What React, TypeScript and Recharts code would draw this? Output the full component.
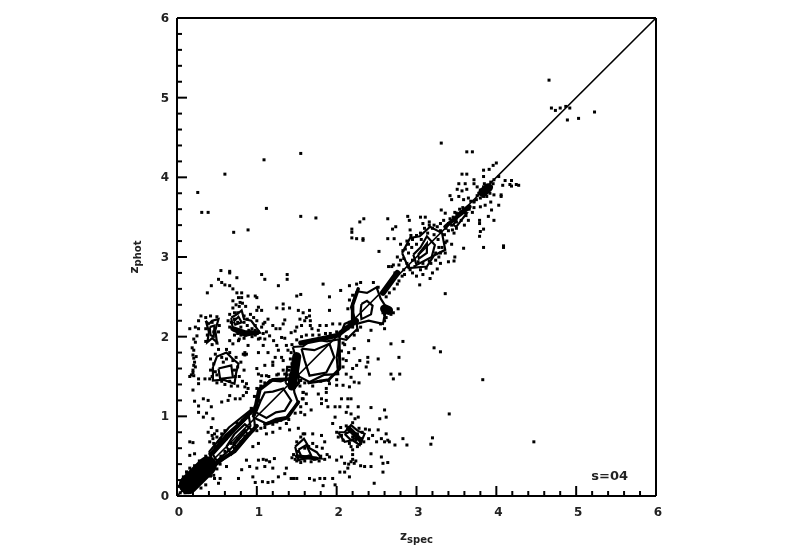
import { ScatterChart, Scatter, XAxis, YAxis, ReferenceLine, ReferenceDot, Label } from "recharts";

type Pt = [number, number];

const majorTicks = [0, 1, 2, 3, 4, 5, 6];
const allTicks = [0, 0.2, 0.4, 0.6, 0.8, 1, 1.2, 1.4, 1.6, 1.8, 2, 2.2, 2.4, 2.6, 2.8, 3, 3.2, 3.4, 3.6, 3.8, 4, 4.2, 4.4, 4.6, 4.8, 5, 5.2, 5.4, 5.6, 5.8, 6];

const outliers: Pt[] = [[4.66,5.22],[3.31,4.43],[1.55,4.3],[1.09,4.22],[0.6,4.04],[0.26,3.81],[0.31,3.56],[0.39,3.56],[1.12,3.61],[1.55,3.51],[1.74,3.49],[0.71,3.31],[0.89,3.34],[2.19,3.31],[2.29,3.44],[2.19,3.24],[2.33,3.21],[3.63,4.32],[3.7,4.32],[4.69,4.87],[4.74,4.84],[4.8,4.87],[4.87,4.89],[4.92,4.87],[4.89,4.72],[5.03,4.74],[5.23,4.82],[4.47,0.68],[3.83,1.46],[3.41,1.03],[3.22,1.86],[3.3,1.81],[3.2,0.73],[3.18,0.65],[4.09,3.14],[4.25,3.91],[4.17,3.91],[4.11,3.96]];

const upperBand: Pt[] = [[3.84,4.09],[3.96,4.15],[4,4.18],[3.91,4.1],[3.57,4.04],[3.63,4.04],[3.72,3.97],[3.84,4.01],[4.19,3.96],[4.19,3.89],[4.28,3.9],[4.08,3.9],[4.03,4.01],[3.97,3.97],[3.53,3.92],[3.61,3.92],[3.51,3.85],[3.63,3.85],[3.57,3.83],[3.72,3.92],[3.76,3.88],[4.06,3.78],[4.06,3.76],[3.97,3.78],[4.03,3.65],[3.93,3.69],[3.94,3.59],[3.86,3.65],[3.8,3.63],[3.97,3.46],[3.9,3.51],[3.79,3.46],[3.79,3.42],[3.84,3.35],[3.8,3.32],[3.79,3.26],[3.42,3.77],[3.44,3.72],[3.53,3.76],[3.59,3.72],[3.65,3.74],[3.72,3.69],[3.76,3.77],[3.31,3.59],[3.36,3.55],[2.89,3.51],[3.05,3.5],[3.11,3.5],[2.64,3.48],[2.34,3.48],[2.91,3.46],[2.7,3.35],[2.74,3.38],[2.19,3.35],[2.25,3.23],[2.33,3.23],[2.64,3.23],[2.72,3.23],[2.53,3.07],[3.84,3.12],[4.09,3.12],[3.59,3.11],[3.36,2.54],[3.47,2.95],[3.4,2.94],[3.48,3],[3.36,3.05],[3.3,2.92],[3.26,2.85],[3.17,2.73],[3.04,2.65],[2.65,2.88],[2.69,2.88],[2.73,2.8],[2.71,2.9],[2.92,3.34],[2.93,3.27],[2.88,3.2],[2.8,3.16],[2.83,3.08],[2.76,3.0],[2.78,2.9],[2.85,2.78],[2.95,2.8],[3,2.76],[3.08,2.78],[3.2,2.8],[3.28,3],[3.38,3.2],[3.44,3.16],[3.47,3.3],[3.5,3.36],[3.6,3.4],[3.65,3.46],[3.08,3.42],[3.16,3.44],[3.22,3.4],[3.3,3.42],[3.34,3.46],[3.42,3.48],[3.46,3.5],[3.5,3.55],[3.54,3.6],[3.6,3.58],[3.66,3.6],[3.48,3.56]];

const ringJ: Pt[] = [[2.84,2.98],[2.86,3.1],[2.9,3.16],[2.95,3.22],[3,3.27],[3.05,3.3],[3.1,3.36],[3.16,3.4],[3.2,3.36],[3.26,3.38],[3.3,3.33],[3.35,3.28],[3.4,3.33],[3.36,3.18],[3.32,3.12],[3.3,3.05],[3.24,2.96],[3.18,2.92],[3.12,2.86],[3.05,2.84],[2.98,2.88],[2.92,2.84],[2.88,2.92],[2.8,2.96],[2.9,3.05],[2.94,3.12],[3,3.16],[3.06,3.22],[3.14,3.3],[3.22,3.28],[3.27,3.22],[3.28,3.12],[3.24,3.05],[3.16,2.95],[3.08,2.92],[3.02,2.94],[2.95,2.96],[3.44,3.4],[3.4,3.42],[3.37,3.36],[3.45,3.34],[3.56,3.46],[3.5,3.44],[3.62,3.52],[3.7,3.56],[3.72,3.62],[3.68,3.7],[3.58,3.62],[3.46,3.46]];

const knot: Pt[] = [[3.78,3.8],[3.8,3.84],[3.82,3.78],[3.84,3.88],[3.86,3.82],[3.88,3.76],[3.9,3.86],[3.92,3.8],[3.84,3.76],[3.88,3.9],[3.94,3.88],[3.8,3.74],[3.75,3.72],[3.72,3.7],[3.82,3.84],[3.86,3.86],[3.9,3.82],[3.84,3.82],[3.87,3.8],[3.81,3.81],[3.96,3.92],[3.93,3.94],[3.85,3.92]];

const upperLeft: Pt[] = [[0.55,2.83],[0.66,2.82],[0.66,2.8],[0.75,2.74],[1.06,2.78],[1.1,2.72],[1.38,2.78],[1.38,2.72],[0.43,2.64],[0.38,2.55],[0.52,2.72],[0.56,2.68],[0.6,2.65],[1.27,2.64],[0.66,2.64],[0.7,2.6],[0.75,2.55],[0.81,2.55],[0.77,2.49],[0.81,2.49],[0.7,2.45],[0.79,2.43],[0.89,2.51],[0.98,2.51],[1,2.49],[1.83,2.66],[1.5,2.51],[1.55,2.53],[1.91,2.5],[2.05,2.58],[2.16,2.64],[1.33,2.41],[1.25,2.36],[1.33,2.35],[1.41,2.36],[1.02,2.37],[1,2.33],[1.06,2.33],[1.52,2.33],[1.58,2.3],[1.66,2.33],[1.91,2.33],[1.62,2.24],[1.66,2.26],[1.67,2.2],[1.67,2.14],[1.69,2.1],[1.54,2.22],[1.6,2.2],[1.35,2.21],[1.33,2.16],[1.29,2.1],[1.5,2.12],[1.56,2.14],[1.43,2.05],[1.48,2.07],[1.79,2.14],[1.77,2.08],[1.87,2.14],[1.95,2.16],[2.04,2.16],[1.14,2.22],[1.1,2.18],[1.2,2.14],[1.24,2.1],[1.08,2.16],[1.31,1.99],[1.35,1.98],[1.16,2.01],[1.1,1.97],[1.21,1.95],[1.25,1.89],[1.02,1.97],[0.66,1.95],[0.7,1.91],[0.77,1.95],[0.85,1.8],[0.85,1.77],[0.83,1.78],[0.87,1.78],[0.89,1.89],[1.08,1.89],[1.02,1.8],[1.14,1.8],[1.27,1.83],[1.31,1.74],[1.37,1.89],[1.39,1.83],[1.23,1.74],[1.2,1.68],[1.1,1.64],[1,1.6],[1.33,1.7],[1.2,1.64],[1.02,1.53],[1.06,1.51],[1.12,1.51],[1.27,1.53],[1.33,1.58]];

const featherF: Pt[] = [[0.7,2.36],[0.74,2.4],[0.78,2.38],[0.82,2.42],[0.86,2.38],[0.72,2.3],[0.66,2.28],[0.64,2.2],[0.66,2.12],[0.72,2.02],[0.78,1.97],[0.84,1.98],[0.88,2.04],[0.94,2],[0.98,2.02],[1.04,1.98],[1.08,2.04],[1.12,2.06],[1.06,2.12],[0.98,2.14],[0.92,2.28],[0.96,2.24],[1.0,2.2],[0.9,2.08],[0.8,2.12],[0.76,2.18],[0.84,2.18],[0.88,2.14],[0.74,2.08],[0.94,2.1],[0.82,2.06],[0.76,2.04],[0.86,2.02],[0.92,2.06],[0.98,2.08],[1.02,2.06],[0.72,2.22],[0.68,2.18],[0.76,2.3],[0.84,2.26],[0.88,2.22],[0.8,2.02]];

const leftColumn: Pt[] = [[0.3,2.26],[0.27,2.2],[0.16,2.1],[0.23,2.12],[0.27,2.1],[0.25,2.01],[0.21,1.97],[0.23,1.93],[0.21,1.83],[0.2,1.77],[0.21,1.73],[0.22,1.68],[0.21,1.64],[0.2,1.58],[0.21,1.51],[0.16,1.5],[0.27,1.47],[0.35,1.47],[0.41,1.47],[0.27,1.41],[0.2,1.33],[0.33,1.22],[0.39,1.2],[0.22,1.19],[0.56,1.18],[0.27,1.13],[0.43,1.12],[0.27,1.05],[0.33,0.99],[0.45,0.97],[0.37,1.04],[0.66,1.26],[0.73,1.22],[0.79,1.22],[0.64,1.2],[0.83,1.26],[0.87,1.3],[0.85,1.37],[0.89,1.35],[0.87,1.41],[0.2,1.55],[0.18,1.52],[0.24,1.75],[0.19,1.86],[0.23,1.62],[0.36,2.24],[0.42,2.26],[0.5,2.25],[0.36,2.1],[0.38,2.02],[0.36,1.94],[0.44,1.9],[0.5,1.92],[0.52,2.06],[0.53,2.14],[0.44,2.18],[0.46,2.06]];

const ringD: Pt[] = [[0.42,1.72],[0.48,1.78],[0.56,1.74],[0.52,1.84],[0.62,1.84],[0.66,1.8],[0.74,1.74],[0.8,1.68],[0.84,1.58],[0.78,1.5],[0.82,1.44],[0.76,1.38],[0.68,1.38],[0.6,1.4],[0.5,1.42],[0.44,1.5],[0.42,1.58],[0.46,1.66],[0.72,1.58],[0.76,1.62],[0.58,1.68],[0.48,1.56],[0.5,1.52],[0.62,1.72],[0.7,1.7],[0.73,1.5],[0.66,1.44],[0.56,1.44]];

const rightOfLoz: Pt[] = [[1.58,1.22],[1.62,1.16],[1.68,1.08],[1.77,1.28],[1.87,1.3],[1.81,1.22],[1.87,1.2],[1.81,1.16],[1.89,1.12],[1.98,1.12],[2.04,1.12],[2.06,1.22],[2.14,1.22],[2.18,1.22],[2.14,1.12],[2.12,1.05],[2.18,1.03],[2.27,1.12],[2.43,1.11],[2.27,0.99],[2.23,0.97],[1.98,0.99],[1.95,0.91],[2.6,1.08],[2.62,0.99],[2.54,0.97],[2.41,0.83],[2.52,0.83],[2.45,0.76],[2.62,0.78],[2.66,0.68],[2.6,0.68],[2.64,0.7],[2.73,0.64],[2.83,0.72],[2.88,0.64],[2.5,0.68],[2.56,0.72],[2.08,1.62],[2.12,1.53],[2.18,1.49],[2.22,1.43],[2.16,1.37],[2.08,1.39],[2,1.39],[1.91,1.41],[1.87,1.35],[2.39,1.74],[2.52,1.72],[2.78,1.74],[2.68,1.91],[2.83,1.94],[2.68,1.53],[2.79,1.53],[2.71,1.47],[2.4,1.95],[2.43,2.08],[2.6,2.1],[2.77,2.35],[2.71,2.3],[2.41,1.53],[2.37,1.62],[2.39,1.68],[2.29,1.7],[2.25,1.64],[2.2,1.6],[2.12,1.7],[2.15,1.8],[2.1,1.9],[2.22,1.85],[2.28,1.42],[1.55,1.05],[1.6,1.02],[1.58,1.3],[1.62,1.28]];

const bottomField: Pt[] = [[0.47,0.22],[0.54,0.22],[0.52,0.16],[0.62,0.37],[0.77,0.22],[0.81,0.33],[0.91,0.37],[0.95,0.24],[0.98,0.17],[1.07,0.18],[1.14,0.17],[1.2,0.18],[1.27,0.24],[1.37,0.35],[1.35,0.28],[1.43,0.22],[1.46,0.22],[1.5,0.22],[1.66,0.22],[1.72,0.2],[1.79,0.22],[1.85,0.22],[1.83,0.13],[1.98,0.14],[1.95,0.22],[2.04,0.3],[2.1,0.3],[2.16,0.24],[2.47,0.16],[2.58,0.3],[2.58,0.41],[2.64,0.42],[2.56,0.49],[2.43,0.53],[2.35,0.37],[2.43,0.37],[1.02,0.45],[1.08,0.46],[1.12,0.45],[1.16,0.43],[1.22,0.47],[1,0.35],[1.2,0.35],[1.1,0.37],[0.87,0.45],[0.95,0.62],[1.02,0.66],[1.12,0.78],[1.2,0.8],[1.29,0.85],[1.37,0.91],[1.41,0.83],[1.52,0.85],[1.58,0.78],[1.7,0.78],[1.81,0.76],[1.85,0.68],[1.91,0.49],[2,0.45],[2.06,0.49],[2.1,0.41],[2.14,0.35],[2.18,0.43],[2.2,0.46],[2.15,0.4],[2.22,0.41],[2.2,0.58],[2.2,0.52],[2.18,0.62],[2.24,0.44],[2.3,0.38],[0.47,0.78],[0.39,0.8],[0.45,0.72],[0.52,0.68],[0.41,0.68],[0.16,0.68],[0.2,0.67],[0.16,0.51],[0.22,0.53],[0.16,0.35],[0.12,0.3],[0.48,0.62],[0.55,0.72],[0.5,0.82],[0.43,0.86],[0.6,0.82],[0.62,0.73],[0.5,0.74],[0.46,0.66],[0.56,0.78],[0.44,0.76]];

const clusterGH: Pt[] = [[1.5,0.68],[1.55,0.74],[1.6,0.78],[1.65,0.62],[1.7,0.66],[1.75,0.62],[1.82,0.6],[1.88,0.52],[1.85,0.46],[1.78,0.44],[1.68,0.43],[1.55,0.42],[1.48,0.46],[1.46,0.52],[1.52,0.56],[1.6,0.6],[1.66,0.5],[2,0.8],[2.05,0.86],[2.12,0.88],[2.2,0.92],[2.28,0.85],[2.36,0.84],[2.4,0.72],[2.34,0.68],[2.26,0.62],[2.16,0.66],[2.08,0.7],[2.02,0.74],[2.2,0.74],[2.26,0.78],[2.3,0.72],[2.24,0.7],[1.44,0.48],[1.5,0.44],[1.6,0.44],[1.72,0.46],[1.8,0.5],[2.06,0.76],[2.14,0.84],[2.32,0.8],[2.3,0.66]];

const diagonalBand: Pt[] = [[0.5,0.62],[0.55,0.5],[0.6,0.56],[0.62,0.72],[0.65,0.58],[0.68,0.66],[0.7,0.82],[0.72,0.6],[0.76,0.72],[0.75,0.92],[0.8,0.68],[0.82,0.95],[0.85,0.75],[0.87,1],[0.9,0.78],[0.92,1.04],[0.95,0.82],[0.98,0.88],[1,0.82],[0.98,1.12],[0.93,1.1],[1.05,0.85],[1.02,1.2],[1.05,1.38],[1.1,0.86],[1.1,1.42],[1.2,0.9],[1.25,0.93],[1.3,0.95],[1.4,0.96],[1.48,1.04],[1.55,1.12],[1.57,1.22],[1.58,1.3],[1.54,1.38],[1.5,1.42],[1.45,1.42],[1.42,1.52],[1.4,1.58],[1.44,1.66],[1.42,1.72],[1.43,1.8],[1.44,1.9],[1.5,1.96],[1.56,2],[1.62,2.02],[1.7,2.02],[1.78,2.02],[1.86,2.04],[1.92,2.04],[2,2.06],[2.06,2.06],[2.1,2.12],[2.14,2.1],[2.16,2.18],[2.2,2.12],[2.12,2],[2.08,1.92],[2.06,1.82],[2.08,1.72],[2.02,1.62],[2,1.46],[1.9,1.45],[1.8,1.44],[1.7,1.38],[1.6,1.42],[1.55,1.45],[1.52,1.5],[1.48,1.42],[1.47,1.36],[1.44,1.46],[1.5,1.55],[1.46,1.5],[1.41,1.45],[1.38,1.52],[1.35,1.53],[1.25,1.52],[1.15,1.5],[1.05,1.44],[1,1.35],[0.97,1.25],[2.22,2.02],[2.26,2.08],[2.3,2.12],[2.6,2.28],[2.66,2.32],[2.62,2.24],[2.68,2.28],[2.58,2.3],[2.64,2.36],[2.6,2.2],[2.55,2.16],[2.52,2.62],[2.46,2.68],[2.3,2.68],[2.25,2.66],[2.2,2.52],[2.16,2.46],[2.14,2.35],[2.62,2.5],[2.66,2.55],[2.72,2.6],[2.76,2.66],[2.78,2.7],[2.82,2.76],[2.84,2.84],[2.9,2.88]];

const originBlob: Pt[] = [[0.04,0.04],[0.06,0.1],[0.1,0.04],[0.08,0.16],[0.12,0.1],[0.16,0.06],[0.14,0.18],[0.18,0.12],[0.2,0.08],[0.1,0.2],[0.16,0.24],[0.2,0.18],[0.24,0.12],[0.14,0.26],[0.2,0.28],[0.24,0.22],[0.28,0.18],[0.18,0.32],[0.24,0.34],[0.3,0.26],[0.34,0.22],[0.22,0.38],[0.28,0.4],[0.34,0.34],[0.38,0.3],[0.28,0.44],[0.34,0.46],[0.4,0.4],[0.44,0.36],[0.36,0.5],[0.42,0.48],[0.46,0.44],[0.08,0.24],[0.06,0.18],[0.12,0.3],[0.3,0.1],[0.36,0.14],[0.42,0.25],[0.5,0.34],[0.46,0.26],[0.54,0.4],[0.02,0.12],[0.28,0.3],[0.32,0.3],[0.22,0.24],[0.26,0.26]];

// contour levels
const contours: Pt[][] = [
  [[0.95,0.99],[0.98,1.15],[1.02,1.35],[1.1,1.38],[1.16,1.45],[1.3,1.44],[1.45,1.49],[1.47,1.3],[1.52,1.16],[1.44,1.08],[1.37,0.99],[1.24,0.97],[1.12,0.91],[0.95,0.99]],
  [[0.99,1.05],[1.05,1.2],[1.1,1.3],[1.2,1.31],[1.33,1.35],[1.43,1.2],[1.35,1.07],[1.24,1.05],[1.12,0.98],[0.99,1.05]],
  [[1.45,1.87],[1.58,1.88],[1.7,1.97],[1.88,1.94],[2.04,1.97],[2,1.74],[2.02,1.53],[1.84,1.52],[1.66,1.43],[1.47,1.53],[1.5,1.7],[1.45,1.87]],
  [[1.56,1.85],[1.72,1.83],[1.91,1.91],[1.97,1.74],[1.87,1.55],[1.66,1.51],[1.6,1.7],[1.56,1.85]],
  [[2.25,2.57],[2.38,2.55],[2.5,2.62],[2.55,2.48],[2.62,2.37],[2.58,2.16],[2.4,2.2],[2.25,2.16],[2.18,2.37],[2.25,2.57]],
  [[2.31,2.41],[2.38,2.45],[2.45,2.39],[2.43,2.28],[2.31,2.22],[2.3,2.32],[2.31,2.41]],
  [[0.45,1.62],[0.5,1.75],[0.62,1.8],[0.7,1.72],[0.77,1.66],[0.74,1.54],[0.72,1.41],[0.58,1.46],[0.45,1.45],[0.45,1.62]],
  [[0.52,1.6],[0.68,1.64],[0.7,1.49],[0.54,1.47],[0.52,1.6]],
  [[0.36,2.2],[0.4,2.16],[0.44,2.2],[0.52,2.22],[0.48,2.08],[0.5,1.93],[0.44,1.98],[0.38,1.93],[0.4,2.06],[0.36,2.2]],
  [[0.41,2.12],[0.47,2.14],[0.46,2],[0.42,2.02],[0.41,2.12]],
  [[0.68,2.24],[0.75,2.28],[0.81,2.33],[0.84,2.22],[0.93,2.2],[1.04,2.05],[0.85,2.01],[0.7,2.08],[0.68,2.24]],
  [[0.71,2.19],[0.77,2.25],[0.81,2.18],[0.73,2.15],[0.71,2.19]],
  [[1.48,0.62],[1.59,0.72],[1.66,0.6],[1.75,0.55],[1.81,0.47],[1.66,0.48],[1.52,0.45],[1.48,0.62]],
  [[1.52,0.58],[1.62,0.64],[1.68,0.51],[1.56,0.49],[1.52,0.58]],
  [[2.02,0.8],[2.1,0.8],[2.18,0.89],[2.26,0.82],[2.35,0.78],[2.29,0.64],[2.2,0.7],[2.1,0.68],[2.02,0.8]],
  [[2.1,0.78],[2.2,0.82],[2.26,0.74],[2.18,0.7],[2.1,0.78]],
  [[0.62,0.62],[0.72,0.78],[0.85,0.9],[0.95,0.82],[0.78,0.62],[0.68,0.52],[0.62,0.62]],
  [[0.7,0.66],[0.85,0.83],[0.88,0.78],[0.74,0.62],[0.7,0.66]],
  [[2.82,3.05],[2.92,3.24],[3.04,3.26],[3.17,3.38],[3.32,3.3],[3.36,3.09],[3.22,3.02],[3.13,2.88],[2.9,2.86],[2.82,3.05]],
  [[2.96,3.03],[3.05,3.12],[3.13,3.26],[3.23,3.15],[3.19,3],[3,2.9],[2.96,3.03]],
  [[3.02,3.03],[3.13,3.17],[3.13,3.05],[3.03,2.98],[3.02,3.03]],
  [[0.4,0.55],[0.65,0.86],[0.95,1.1],[0.98,0.85],[0.7,0.56],[0.48,0.38],[0.4,0.55]],
  [[0.45,0.52],[0.72,0.82],[0.9,1],[0.92,0.88],[0.68,0.6],[0.5,0.44],[0.45,0.52]],
  [[1.36,1.42],[1.38,1.62],[1.5,1.62],[1.53,1.42],[1.46,1.34],[1.36,1.42]],
  [[2.03,1.98],[2.1,2.16],[2.24,2.22],[2.26,2.1],[2.12,1.96],[2.03,1.98]],
  [[3.46,3.4],[3.55,3.56],[3.63,3.55],[3.5,3.38],[3.46,3.4]],
];

// runs where the contours pile up into solid black
const denseRuns: Pt[][] = [
  [[0.14,0.14],[0.38,0.38]],
  [[0.42,0.52],[0.62,0.76],[0.8,0.92],[0.95,1.08]],
  [[0.5,0.42],[0.72,0.56],[0.88,0.75],[1,0.88]],
  [[1.44,1.38],[1.47,1.55],[1.5,1.75]],
  [[1.55,1.92],[1.8,1.97],[2.02,2.02]],
  [[2.05,2.05],[2.25,2.2]],
  [[2.6,2.35],[2.65,2.33]],
  [[3.83,3.81],[3.9,3.87]],
  [[3.52,3.52],[3.66,3.63]],
  [[3.36,3.38],[3.5,3.5]],
  [[0.97,1.02],[1.04,1.34],[1.2,1.46],[1.42,1.47]],
  [[1.52,1.18],[1.38,0.98],[1.1,0.9]],
  [[2.03,1.95],[2.04,1.6],[1.9,1.46],[1.65,1.42]],
  [[2.2,2.2],[2.2,2.4],[2.27,2.6]],
  [[2.58,2.55],[2.76,2.8]],
  [[0.7,2.1],[0.85,2.05],[1,2.05]],
  [[2.15,0.85],[2.3,0.7]],
  [[1.5,0.5],[1.75,0.47]],
];
const denseWidths = [19, 4, 4, 9, 5, 5, 9, 9, 5, 4, 3.5, 3.5, 3, 3.5, 6, 5, 5, 4];

const dotGroups = [outliers, upperBand, ringJ, knot, upperLeft, featherF, leftColumn, ringD, rightOfLoz, bottomField, clusterGH, diagonalBand, originBlob];

const FONT = "DejaVu Sans";
const toXY = (p: Pt) => ({ x: p[0], y: p[1] });
const isMajor = (v: number) => majorTicks.includes(v);

const Dot = (props: any) => <rect x={props.cx - 1.5} y={props.cy - 1.5} width={3} height={3} fill="#000" />;
const NoDot = () => null;

const BottomTick = ({ x, y, payload }: any) => (
  <g>
    <line x1={x} x2={x} y1={y} y2={y - (isMajor(payload.value) ? 10 : 5)} stroke="#000" strokeWidth={2} />
    {isMajor(payload.value) && (
      <text x={x + 2} y={y + 20} textAnchor="middle" fontFamily={FONT} fontWeight="bold" fontSize={12} fill="#222">{payload.value}</text>
    )}
  </g>
);
const TopTick = ({ x, y, payload }: any) => (
  <line x1={x} x2={x} y1={y} y2={y + (isMajor(payload.value) ? 10 : 5)} stroke="#000" strokeWidth={2} />
);
const LeftTick = ({ x, y, payload }: any) => (
  <g>
    <line x1={x} x2={x + (isMajor(payload.value) ? 10 : 5)} y1={y} y2={y} stroke="#000" strokeWidth={2} />
    {isMajor(payload.value) && (
      <text x={x - 8} y={y + 4} textAnchor="end" fontFamily={FONT} fontWeight="bold" fontSize={12} fill="#222">{payload.value}</text>
    )}
  </g>
);
const RightTick = ({ x, y, payload }: any) => (
  <line x1={x} x2={x - (isMajor(payload.value) ? 10 : 5)} y1={y} y2={y} stroke="#000" strokeWidth={2} />
);

const XTitle = ({ viewBox }: any) => (
  <text x={viewBox.x + viewBox.width / 2} y={540} textAnchor="middle" fontFamily={FONT} fontWeight="bold" fontSize={12} fill="#222">
    z<tspan dy={3} fontSize={10}>spec</tspan>
  </text>
);
const YTitle = () => (
  <text transform="rotate(-90 138 257)" x={138} y={257} textAnchor="middle" fontFamily={FONT} fontWeight="bold" fontSize={12} fill="#222">
    z<tspan dy={3} fontSize={10}>phot</tspan>
  </text>
);

export default function App() {
  return (
    <div style={{ position: "absolute", left: 0, top: 0, width: 800, height: 560, filter: "blur(0.5px)" }}>
      <ScatterChart width={800} height={560} margin={{ left: 117, right: 134, top: 8, bottom: 24 }}>
        <XAxis xAxisId="bottom" type="number" dataKey="x" domain={[0, 6]} ticks={allTicks} interval={0} height={40} tickSize={0} tickMargin={0} tick={<BottomTick />} axisLine={{ stroke: "#000", strokeWidth: 2 }} tickLine={false}>
          <Label content={<XTitle />} />
        </XAxis>
        <XAxis xAxisId="top" orientation="top" type="number" dataKey="x" domain={[0, 6]} ticks={allTicks} interval={0} height={10} tickSize={0} tickMargin={0} tick={<TopTick />} axisLine={{ stroke: "#000", strokeWidth: 2 }} tickLine={false} />
        <YAxis yAxisId="left" type="number" dataKey="y" domain={[0, 6]} ticks={allTicks} interval={0} width={60} tickSize={0} tickMargin={0} tick={<LeftTick />} axisLine={{ stroke: "#000", strokeWidth: 2 }} tickLine={false}>
          <Label content={<YTitle />} />
        </YAxis>
        <YAxis yAxisId="right" orientation="right" type="number" dataKey="y" domain={[0, 6]} ticks={allTicks} interval={0} width={10} tickSize={0} tickMargin={0} tick={<RightTick />} axisLine={{ stroke: "#000", strokeWidth: 2 }} tickLine={false} />
        <ReferenceLine xAxisId="bottom" yAxisId="left" segment={[{ x: 0, y: 0 }, { x: 6, y: 6 }]} stroke="#000" strokeWidth={1.6} />
        {contours.map((c, i) => (
          <Scatter key={`c${i}`} xAxisId="bottom" yAxisId="left" data={c.map(toXY)} line={{ stroke: "#000", strokeWidth: 2.2 }} shape={NoDot} isAnimationActive={false} />
        ))}
        {denseRuns.map((r, i) => (
          <Scatter key={`r${i}`} xAxisId="bottom" yAxisId="left" data={r.map(toXY)} line={{ stroke: "#000", strokeWidth: denseWidths[i], strokeLinecap: "round", strokeLinejoin: "round" }} shape={NoDot} isAnimationActive={false} />
        ))}
        {dotGroups.map((g, i) => (
          <Scatter key={`d${i}`} xAxisId="bottom" yAxisId="left" data={g.map(toXY)} shape={Dot} isAnimationActive={false} />
        ))}
        <ReferenceDot xAxisId="bottom" yAxisId="left" x={5.42} y={0.26} r={0} stroke="none" label={{ value: "s=04", fontFamily: FONT, fontWeight: "bold", fontSize: 13, fill: "#222" }} />
      </ScatterChart>
    </div>
  );
}
